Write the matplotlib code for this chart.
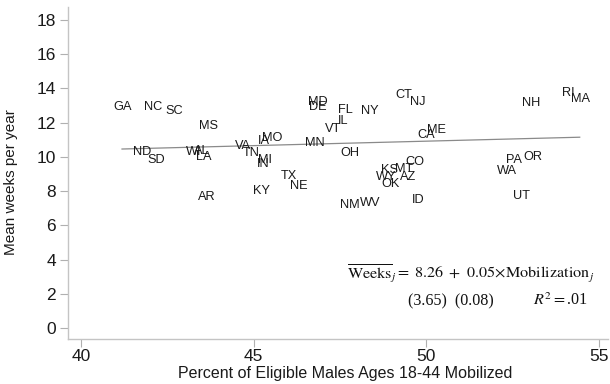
import matplotlib
matplotlib.use("Agg")
import matplotlib.pyplot as plt

states = ["GA","NC","SC","MS","MD","DE","FL","IL","VT","MO","IA","MN","VA","WI","AL","LA",
          "ND","SD","TN","MI","IN","OH","TX","NE","KY","AR","NM","CT","NJ","NY","ME","CA",
          "CO","KS","MT","WY","AZ","OK","WV","ID","NH","RI","MA","PA","OR","WA","UT"]
mobilized = [41.20,42.09,42.69,43.68,46.87,46.87,47.67,47.58,47.30,45.52,45.30,46.77,44.68,43.25,43.49,43.54,
             41.75,42.17,44.94,45.32,45.28,47.80,46.03,46.32,45.21,43.63,47.79,49.35,49.74,48.37,50.30,49.99,
             49.67,48.93,49.35,48.85,49.48,48.97,48.37,49.77,53.03,54.12,54.48,52.55,53.10,52.33,52.76]
weeks = [13.03,13.03,12.78,11.91,13.28,13.03,12.84,12.16,11.71,11.18,10.99,10.89,10.70,10.36,10.44,10.11,
         10.36,9.92,10.34,9.88,9.68,10.32,8.98,8.36,8.12,7.77,7.26,13.72,13.28,12.78,11.67,11.38,
         9.78,9.33,9.39,8.94,8.94,8.49,7.38,7.58,13.23,13.81,13.48,9.92,10.11,9.28,7.83]

fit_x = [41.18, 54.45]
fit_y = [10.46, 11.15]

x_ticks = [40, 45, 50, 55]
y_ticks = [0, 2, 4, 6, 8, 10, 12, 14, 16, 18]

plt.rcParams['font.family'] = ['Liberation Sans', 'DejaVu Sans']
plt.rcParams['mathtext.fontset'] = 'stix'

fig = plt.figure(figsize=(6.1, 3.84), dpi=100)
ax = fig.add_axes([68/610, 1-339/384, 540/610, 332/384])
ax.set_xlim(39.614, 55.27)
ax.set_ylim(-0.643, 18.76)

ax.plot(fit_x, fit_y, color='#8a8a8a', lw=0.9)
for s, xv, yv in zip(states, mobilized, weeks):
    ax.text(xv, yv, s, ha='center', va='center_baseline', fontsize=9.2, color='#1a1a1a')

ax.set_xticks(x_ticks)
ax.set_yticks(y_ticks)
for sp in ['top', 'right']:
    ax.spines[sp].set_visible(False)
for sp in ['left', 'bottom']:
    ax.spines[sp].set_color('#c4c4c4')
    ax.spines[sp].set_linewidth(1.0)
ax.tick_params(axis='both', direction='out', length=5.5, width=0.8, color='#b0b0b0',
               labelsize=12.5, labelcolor='#1a1a1a')
ax.tick_params(axis='x', pad=2)
ax.tick_params(axis='y', pad=3)

ax.set_xlabel('Percent of Eligible Males Ages 18-44 Mobilized', fontsize=11.5, color='#1a1a1a')
ax.set_ylabel('Mean weeks per year', fontsize=11, color='#1a1a1a')
ax.xaxis.set_label_coords(0.514, -0.08)
ax.yaxis.set_label_coords(-0.092, 0.473)

ax.text(0.516, 0.184, r'$\overline{\mathrm{Weeks}}_j =\ 8.26\ +\ 0.05\!\times\!\mathrm{Mobilization}_j$',
        transform=ax.transAxes, fontsize=11.6, ha='left', va='baseline', color='#111111')
ax.text(0.63, 0.102, '(3.65)  (0.08)', transform=ax.transAxes, fontsize=11.6,
        family='Liberation Serif', ha='left', va='baseline', color='#111111')
ax.text(0.963, 0.102, r'$R^2 = $.01', transform=ax.transAxes, fontsize=11.6,
        family='Liberation Serif', ha='right', va='baseline', color='#111111')

fig.savefig('out.png', dpi=100)
